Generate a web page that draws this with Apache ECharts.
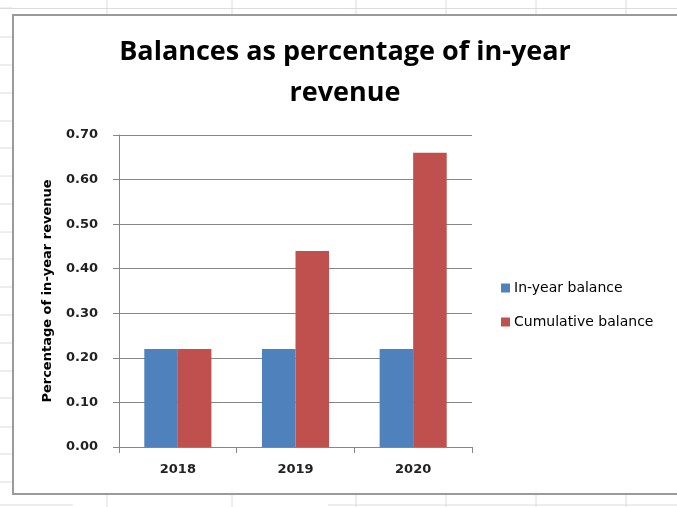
<!DOCTYPE html>
<html>
<head>
<meta charset="utf-8">
<script src="https://cdn.jsdelivr.net/npm/echarts@6/dist/echarts.min.js"></script>
<style>
html,body{margin:0;padding:0;background:#fff;}
#c{width:677px;height:507px;}
</style>
</head>
<body>
<div id="c"></div>
<script>
const categories = ['2018', '2019', '2020'];
const inYearBalance = [0.22, 0.22, 0.22];
const cumulativeBalance = [0.22, 0.44, 0.66];
const seriesNames = ['In-year balance', 'Cumulative balance'];
const titleText = 'Balances as percentage of in-year\nrevenue';
const yAxisName = 'Percentage of in-year revenue';

const chart = echarts.init(document.getElementById('c'), null, {renderer: 'canvas'});
const TFONT = '"Open Sans", sans-serif';
const FONT = '"DejaVu Sans", sans-serif';

// spreadsheet background grid (decoration)
const sheetLines = [];
const cellCol = '#dadcdd';
[8, 37, 65, 93, 121, 148, 176, 204, 232, 259, 287, 315, 343, 371, 398, 427, 454, 482].forEach(y => {
  sheetLines.push({type: 'line', shape: {x1: 0, y1: y, x2: 12, y2: y}, style: {stroke: cellCol, lineWidth: 1}, silent: true, z: 0});
});
sheetLines.push({type: 'line', shape: {x1: 0, y1: 8.5, x2: 677, y2: 8.5}, style: {stroke: cellCol, lineWidth: 1}, silent: true, z: 0});
[107, 232, 356, 446, 536, 626].forEach(x => {
  sheetLines.push({type: 'line', shape: {x1: x, y1: 0, x2: x, y2: 15}, style: {stroke: cellCol, lineWidth: 1}, silent: true, z: 0});
  sheetLines.push({type: 'line', shape: {x1: x, y1: 495, x2: x, y2: 507}, style: {stroke: cellCol, lineWidth: 1}, silent: true, z: 0});
});
sheetLines.push({type: 'line', shape: {x1: 0, y1: 505, x2: 73, y2: 505}, style: {stroke: cellCol, lineWidth: 1}, silent: true, z: 0});
sheetLines.push({type: 'line', shape: {x1: 328, y1: 505, x2: 677, y2: 505}, style: {stroke: cellCol, lineWidth: 1}, silent: true, z: 0});
// chart border
sheetLines.push({type: 'rect', shape: {x: 13, y: 15, width: 700, height: 479}, style: {fill: '#fff', stroke: '#9a9a9a', lineWidth: 2}, silent: true, z: 0});

chart.setOption({
  animation: false,
  backgroundColor: '#fff',
  textStyle: {fontFamily: FONT},
  graphic: sheetLines,
  title: {
    text: titleText,
    left: 345,
    top: 32,
    padding: 0,
    textAlign: 'center',
    textStyle: {fontFamily: TFONT, fontSize: 27, fontWeight: 'bold', color: '#000', lineHeight: 41}
  },
  legend: {
    orient: 'vertical',
    left: 501,
    top: 281,
    padding: 0,
    itemWidth: 9,
    itemHeight: 9,
    itemGap: 20,
    icon: 'rect',
    textStyle: {fontFamily: FONT, fontSize: 14, color: '#000', padding: [0, 0, 0, -1]},
    data: seriesNames
  },
  grid: {left: 119, top: 135, width: 353, height: 312, containLabel: false},
  xAxis: {
    type: 'category',
    data: categories,
    axisLine: {lineStyle: {color: '#868686', width: 1}},
    axisTick: {show: true, length: 6, lineStyle: {color: '#868686'}},
    axisLabel: {margin: 16, fontFamily: FONT, fontSize: 13, fontWeight: 'bold', color: '#222'}
  },
  yAxis: {
    type: 'value',
    min: 0,
    max: 0.7,
    interval: 0.1,
    name: yAxisName,
    nameLocation: 'middle',
    nameRotate: 90,
    nameGap: 65,
    nameTextStyle: {fontFamily: FONT, fontSize: 13, fontWeight: 'bold', color: '#000'},
    axisLine: {show: true, lineStyle: {color: '#868686', width: 1}},
    axisTick: {show: true, length: 6, lineStyle: {color: '#868686'}},
    splitLine: {show: true, lineStyle: {color: '#868686', width: 1}},
    axisLabel: {margin: 21, fontFamily: FONT, fontSize: 13, fontWeight: 'bold', color: '#222', formatter: v => v.toFixed(2)}
  },
  series: [
    {name: seriesNames[0], type: 'bar', data: inYearBalance, barGap: '0%', barCategoryGap: '43%', itemStyle: {color: '#4F81BD'}},
    {name: seriesNames[1], type: 'bar', data: cumulativeBalance, barGap: '0%', barCategoryGap: '43%', itemStyle: {color: '#C0504D'}}
  ]
});
</script>
</body>
</html>
